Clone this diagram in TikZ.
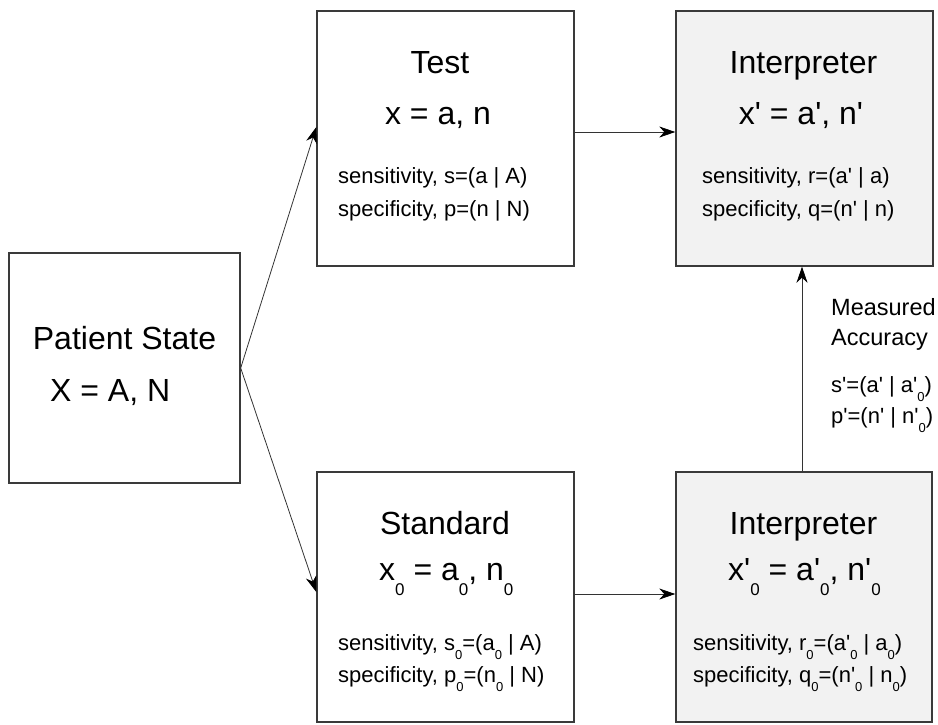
\documentclass[tikz,border=0pt]{standalone}
\usepackage{fontspec}
\setmainfont{Liberation Sans}
\usetikzlibrary{arrows.meta}
\definecolor{boxline}{HTML}{3A3A3A}
\definecolor{boxfill}{HTML}{F2F2F2}
\newcommand\ap{\textquotesingle}
\newcommand\bigsub[1]{\raisebox{-15pt}{\fontsize{17}{17}\selectfont #1}}
\newcommand\smsub[1]{\raisebox{-9pt}{\fontsize{13}{13}\selectfont #1}}
\newcommand\bigf{\fontsize{32}{38}\selectfont}
\newcommand\smf{\fontsize{22}{26}\selectfont}
\newcommand\maf{\fontsize{23.5}{27}\selectfont}
\begin{document}
\begin{tikzpicture}[x=1pt,y=-1pt,
  blockbox/.style={draw=boxline,line width=1.4pt,inner sep=0pt,fill=white},
  interbox/.style={blockbox,fill=boxfill},
  bigtext/.style={inner sep=0pt,anchor=base,font=\bigf},
  bigtextw/.style={inner sep=0pt,anchor=base west,font=\bigf},
  smtext/.style={inner sep=0pt,anchor=base west,font=\smf},
  matext/.style={inner sep=0pt,anchor=base west,font=\maf},
  arr/.style={draw=black!80,line width=0.8pt,-{Stealth[length=16pt,width=11pt,inset=5pt,color=black,fill=black]}}]
\useasboundingbox (0,0) rectangle (938,724);
% boxes
\node[blockbox,minimum width=231pt,minimum height=230pt] (pat) at (124.5,368) {};
\node[blockbox,minimum width=257pt,minimum height=255pt] (test) at (445.5,138.5) {};
\node[interbox,minimum width=257pt,minimum height=255pt] (it) at (804.5,138.5) {};
\node[blockbox,minimum width=257pt,minimum height=250pt] (std) at (445.5,597) {};
\node[interbox,minimum width=256pt,minimum height=250pt] (ib) at (804,597) {};
% patient text
\node[bigtext] (patT) at (124.5,349) {Patient State};
\node[bigtextw] (patF) at (50,401) {X = A, N};
% test text
\node[bigtext] (testT) at (440,73) {Test};
\node[bigtext] (testF) at (438,124) {x = a, n};
\node[smtext] (testS) at (338,183) {sensitivity, s=(a | A)};
\node[smtext] (testP) at (338,216) {specificity, p=(n | N)};
% interpreter top
\node[bigtext] (itT) at (803.5,73) {Interpreter};
\node[bigtext] (itF) at (801,124) {x\ap{} = a\ap, n\ap};
\node[smtext] (itS) at (702,183) {sensitivity, r=(a\ap{} | a)};
\node[smtext] (itP) at (702,216) {specificity, q=(n\ap{} | n)};
% standard
\node[bigtext] (stdT) at (445,534) {Standard};
\node[bigtextw] (stdF) at (379,580) {x\bigsub{0} = a\bigsub{0}, n\bigsub{0}};
\node[smtext] (stdS) at (338,650) {sensitivity, s\smsub{0}=(a\smsub{0} | A)};
\node[smtext] (stdP) at (338,682) {specificity, p\smsub{0}=(n\smsub{0} | N)};
% interpreter bottom
\node[bigtext] (ibT) at (803.5,534) {Interpreter};
\node[bigtextw] (ibF) at (728,580) {x\ap\bigsub{0} = a\ap\bigsub{0}, n\ap\bigsub{0}};
\node[smtext] (ibS) at (693,650) {sensitivity, r\smsub{0}=(a\ap\smsub{0} | a\smsub{0})};
\node[smtext] (ibP) at (693,682) {specificity, q\smsub{0}=(n\ap\smsub{0} | n\smsub{0})};
% measured accuracy
\node[matext] (maA) at (831,315) {Measured};
\node[matext] (maB) at (831,345) {Accuracy};
\node[smtext] (maS) at (831,392) {s\ap=(a\ap{} | a\ap\smsub{0})};
\node[smtext] (maP) at (831,423) {p\ap=(n\ap{} | n\ap\smsub{0})};
% connectors
\draw[arr] (pat.east) -- ([yshift=11.5pt]test.west);
\draw[arr] (pat.east) -- ([yshift=5pt]std.west);
\draw[arr] ([yshift=6.5pt]test.east) -- ([yshift=6.5pt]it.west);
\draw[arr] ([yshift=3pt]std.east) -- ([yshift=3pt]ib.west);
\draw[arr] ([xshift=-2pt]ib.north) -- ([xshift=-2.5pt]it.south);
\end{tikzpicture}
\end{document}
